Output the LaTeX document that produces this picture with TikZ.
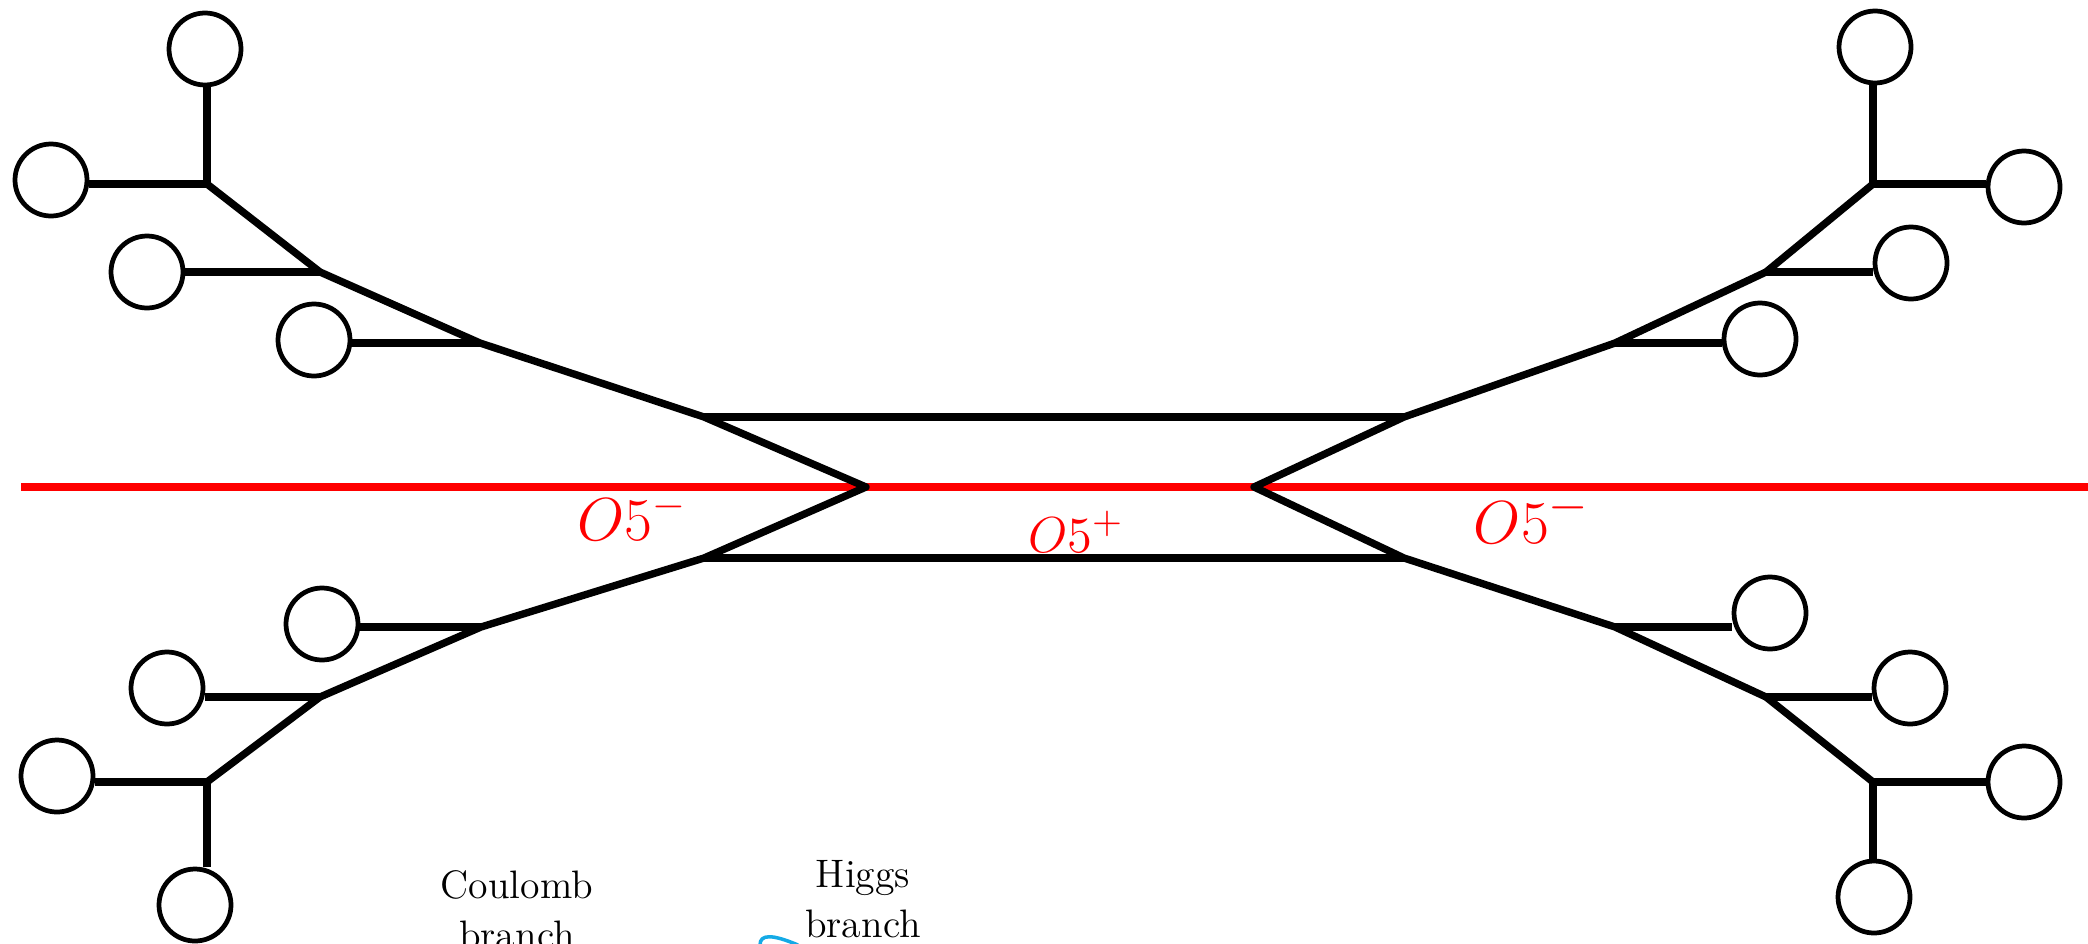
\documentclass[tikz,border=0pt]{standalone}
\pgfdeclarelayer{background}
\pgfsetlayers{background, main}
\definecolor{higgsblue}{RGB}{20,170,230}

\begin{document}
\begin{tikzpicture}[
  disk/.style={circle, draw, line width=1.35pt, minimum size=0.72cm, inner sep=0pt},
  web/.style={line width=2.1pt, line join=round},
  olabel/.style={red, anchor=base, inner sep=0pt},
  branchtext/.style={anchor=north, align=center, inner sep=0pt, font=\fontsize{11.3}{14.2}\selectfont}]
  \useasboundingbox (0, 0) rectangle (20.88, 9.43);
  % upper left
  \coordinate (jUL1) at (2.07, 7.59);
  \coordinate (jUL2) at (3.20, 6.71);
  \coordinate (jUL3) at (4.80, 6.00);
  \coordinate (jUL4) at (7.04, 5.26);
  \node[disk] (dUL0) at (2.05, 8.94) {};
  \node[disk] (dUL1) at (0.51, 7.63) {};
  \node[disk] (dUL2) at (1.47, 6.71) {};
  \node[disk] (dUL3) at (3.14, 6.03) {};
  % lower left
  \coordinate (jLL1) at (2.07, 1.61);
  \coordinate (jLL2) at (3.20, 2.46);
  \coordinate (jLL3) at (4.81, 3.16);
  \coordinate (jLL4) at (7.04, 3.85);
  \node[disk] (dLL0) at (1.95, 0.38) {};
  \node[disk] (dLL1) at (0.57, 1.67) {};
  \node[disk] (dLL2) at (1.67, 2.55) {};
  \node[disk] (dLL3) at (3.22, 3.19) {};
  % upper right
  \coordinate (jUR1) at (18.73, 7.59);
  \coordinate (jUR2) at (17.66, 6.71);
  \coordinate (jUR3) at (16.15, 6.00);
  \coordinate (jUR4) at (14.04, 5.26);
  \node[disk] (dUR0) at (18.75, 8.96) {};
  \node[disk] (dUR1) at (20.24, 7.56) {};
  \node[disk] (dUR2) at (19.11, 6.80) {};
  \node[disk] (dUR3) at (17.60, 6.04) {};
  % lower right
  \coordinate (jLR1) at (18.73, 1.61);
  \coordinate (jLR2) at (17.66, 2.46);
  \coordinate (jLR3) at (16.15, 3.16);
  \coordinate (jLR4) at (14.04, 3.85);
  \node[disk] (dLR0) at (18.74, 0.46) {};
  \node[disk] (dLR1) at (20.24, 1.61) {};
  \node[disk] (dLR2) at (19.10, 2.55) {};
  \node[disk] (dLR3) at (17.70, 3.30) {};
  % orientifold
  \coordinate (pL) at (8.66, 4.56);
  \coordinate (pR) at (12.54, 4.56);
  \coordinate (rL) at (0.21, 4.56);
  \coordinate (rR) at (20.90, 4.56);
  \begin{pgfonlayer}{background}
    \draw[red, line width=2.1pt] (rL) -- (rR);
  \end{pgfonlayer}
  \draw[web] (jUL1) -- (jUL2) -- (jUL3) -- (jUL4) -- (pL) -- (jLL4) -- (jLL3) -- (jLL2) -- (jLL1);
  \draw[web] (jUR1) -- (jUR2) -- (jUR3) -- (jUR4) -- (pR) -- (jLR4) -- (jLR3) -- (jLR2) -- (jLR1);
  \draw[web] (jUL4) -- (jUR4) (jLL4) -- (jLR4);
  \draw[web] (jUL1) -- (jUL1 |- dUL0.south) (jUL1) -- (jUL1 -| dUL1.east) (jUL2) -- (jUL2 -| dUL2.east) (jUL3) -- (jUL3 -| dUL3.east);
  \draw[web] (jLL1) -- (jLL1 |- dLL0.north) (jLL1) -- (jLL1 -| dLL1.east) (jLL2) -- (jLL2 -| dLL2.east) (jLL3) -- (jLL3 -| dLL3.east);
  \draw[web] (jUR1) -- (jUR1 |- dUR0.south) (jUR1) -- (jUR1 -| dUR1.west) (jUR2) -- (jUR2 -| dUR2.west) (jUR3) -- (jUR3 -| dUR3.west);
  \draw[web] (jLR1) -- (jLR1 |- dLR0.north) (jLR1) -- (jLR1 -| dLR1.west) (jLR2) -- (jLR2 -| dLR2.west) (jLR3) -- (jLR3 -| dLR3.west);
  % labels
  \node[olabel, font=\fontsize{16.5}{19}\selectfont] (oL) at (6.32, 4.03) {$O5^-$};
  \node[olabel, font=\fontsize{15}{18}\selectfont] (oM) at (10.76, 3.91) {$O5^+$};
  \node[olabel, font=\fontsize{19}{22}\selectfont] (oR) at (15.32, 4.00) {$O5^-$};
  \node[branchtext] (coulomb) at (5.17, 0.73) {Coulomb\\branch};
  \node[branchtext] (higgs) at (8.63, 0.83) {Higgs\\branch};
  \draw[higgsblue, line width=1pt] (7.60, -0.02) .. controls (7.60, 0.09) and (7.72, 0.09) .. (7.98, -0.02);
\end{tikzpicture}
\end{document}
